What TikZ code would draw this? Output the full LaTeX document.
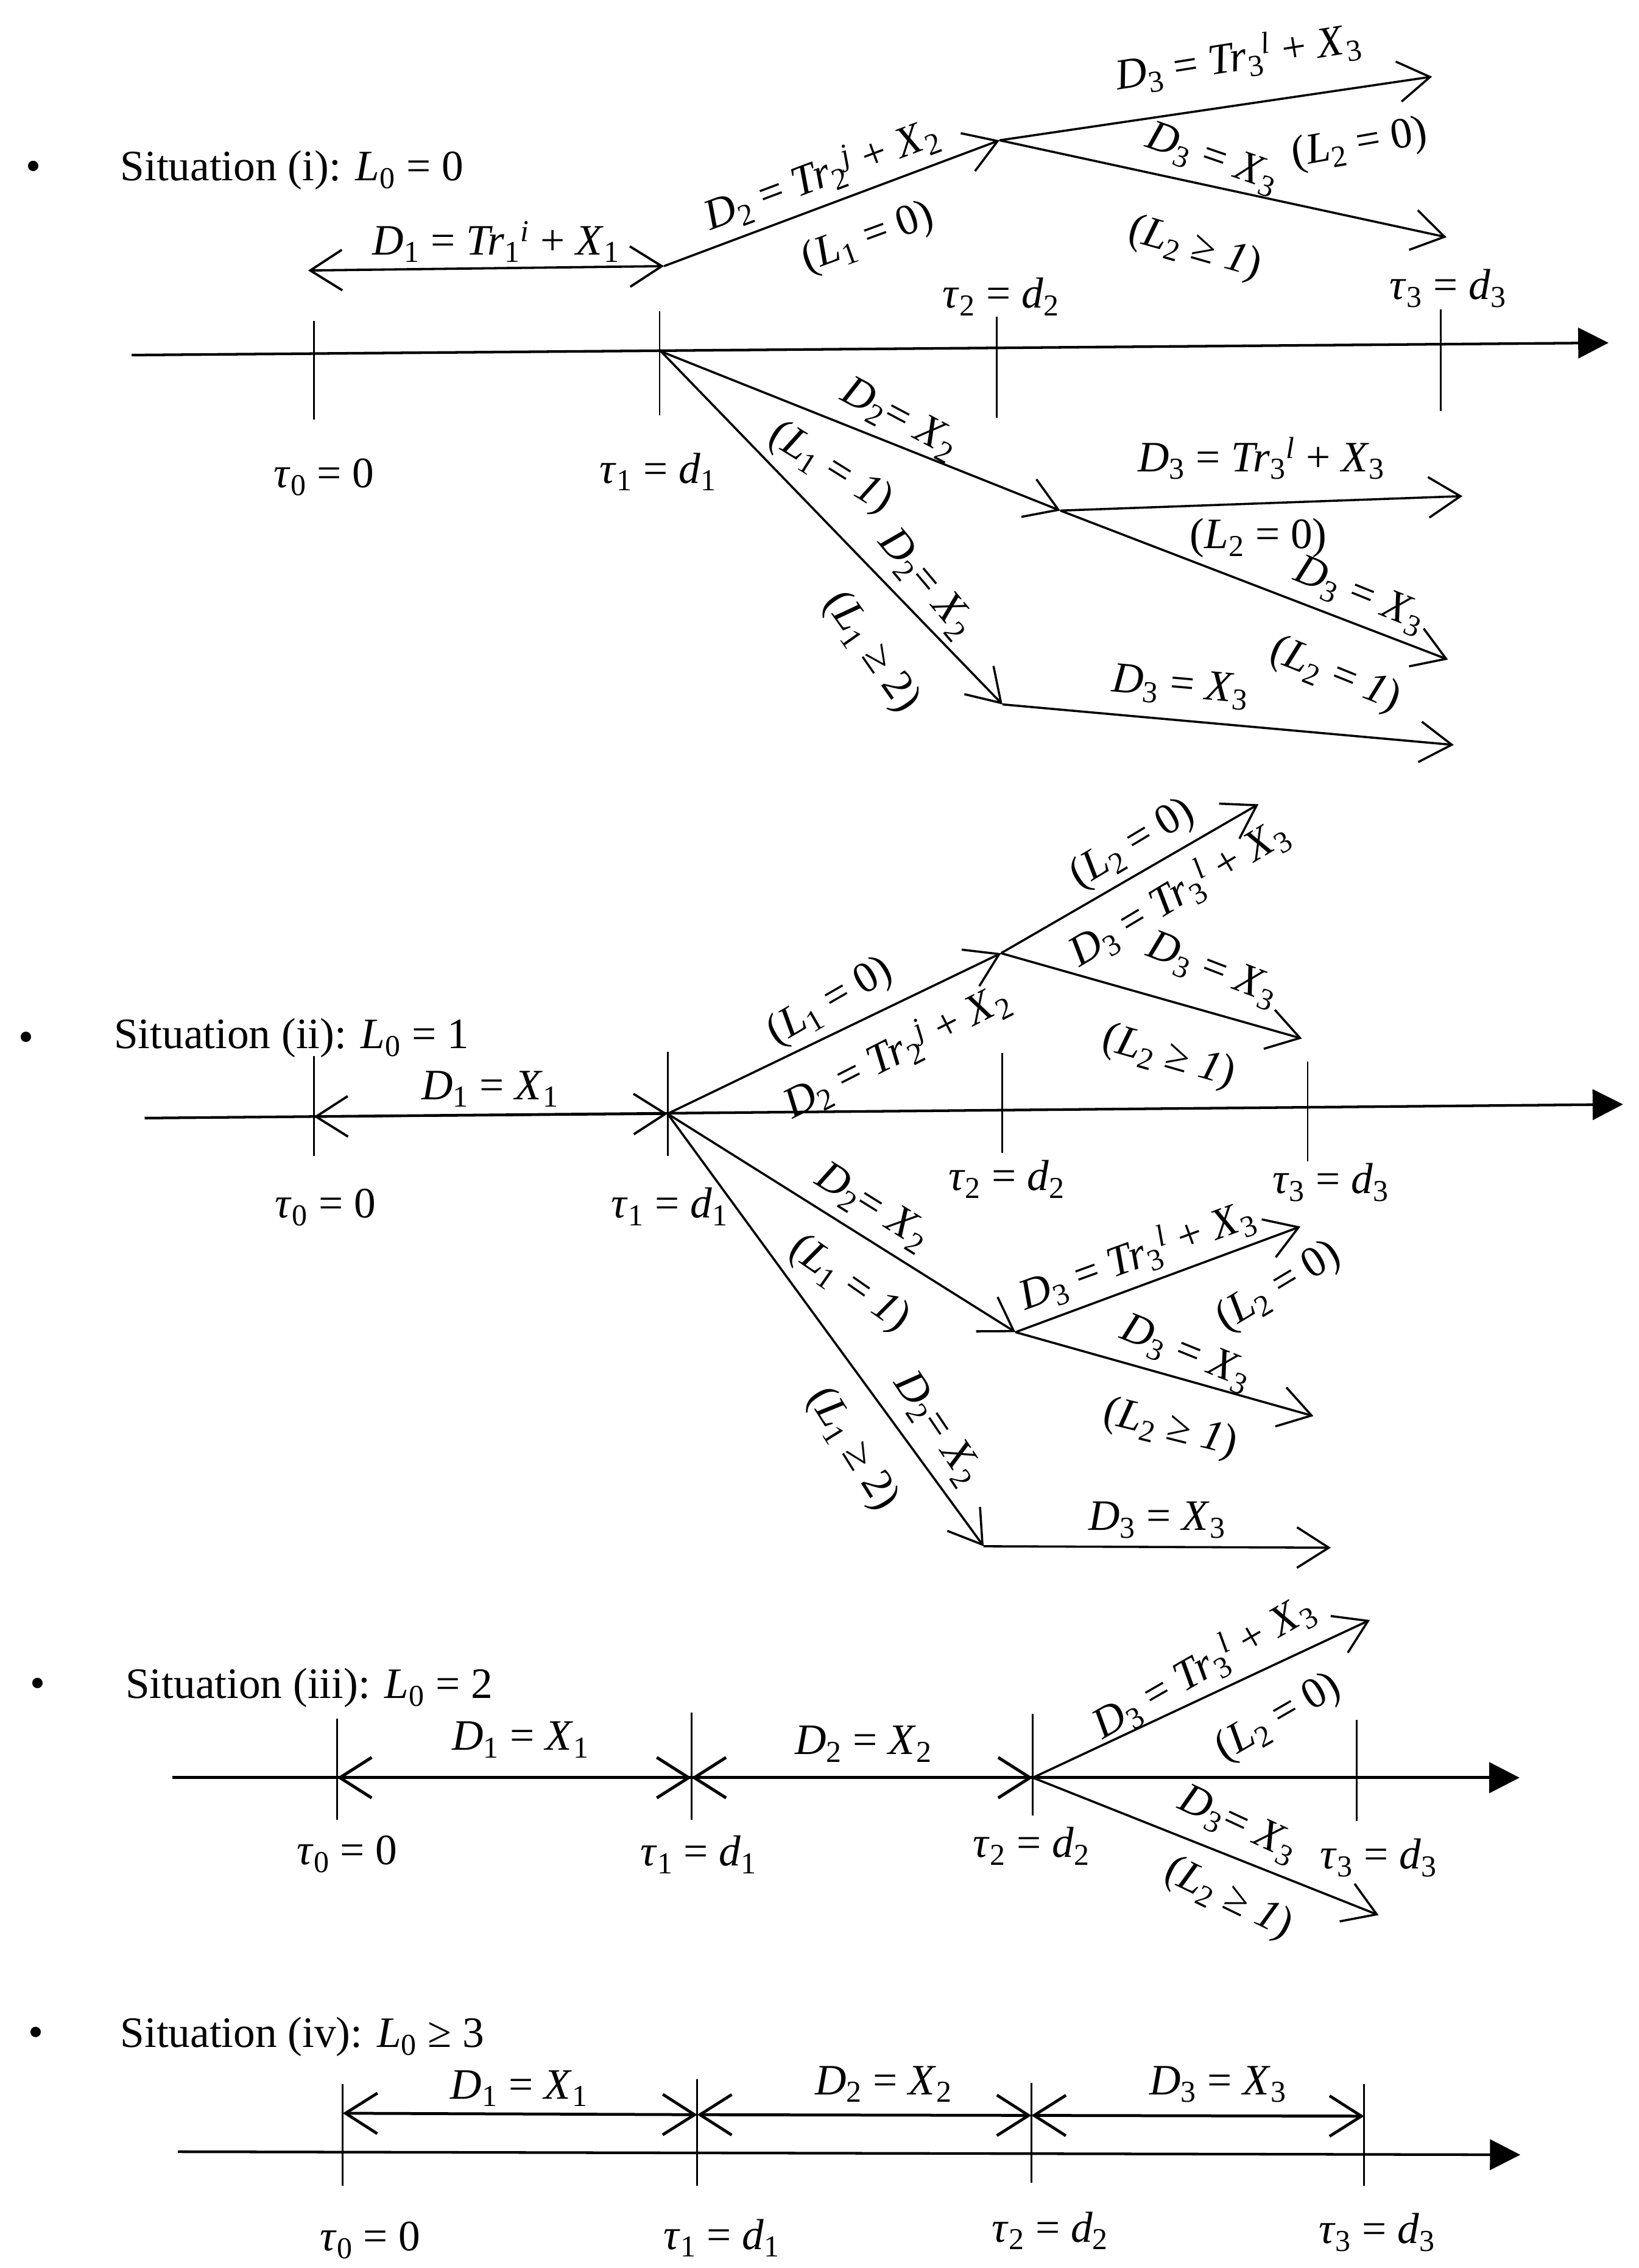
\documentclass[tikz,border=0pt]{standalone}
\usepackage{fontspec}
\setmainfont{Liberation Serif}
\usetikzlibrary{arrows.meta}
\newcommand{\itx}[1]{\textit{#1}}
\newcommand{\sbs}[1]{\textsubscript{#1}}
\newcommand{\sps}[1]{\textsuperscript{#1}}
\newcommand{\Dk}[1]{\itx{D}\sbs{#1}}
\newcommand{\Xk}[1]{\itx{X}\sbs{#1}}
\newcommand{\Lk}[1]{\itx{L}\sbs{#1}}
\newcommand{\tauk}[1]{\itx{τ}\sbs{#1}}
\newcommand{\dk}[1]{\itx{d}\sbs{#1}}
\newcommand{\Trk}[2]{\itx{Tr}\sbs{#1}\sps{\itx{#2}}}
\begin{document}
\begin{tikzpicture}[x=1pt,y=-1pt,
  >={Straight Barb[length=22pt,width=28pt]},
  lbl/.style={font=\fontsize{30}{34}\selectfont, inner sep=0pt},
  blbl/.style={lbl, anchor=base},
  ttl/.style={font=\fontsize{30}{34}\selectfont, inner sep=0pt, anchor=base west},
  axisln/.style={line width=1.8pt, -{Triangle[length=21pt,width=21pt]}},
  tickln/.style={line width=1.2pt},
  brln/.style={line width=1.5pt, ->},
  dblln/.style={line width=1.6pt, <->}]
\fill[white] (0,0) rectangle (1133,1568);
\useasboundingbox (0,0) rectangle (1133,1568);

% ================= Situation (i)
\node[lbl] (iBul) at (23,118) {•};
\node[ttl] (iTitle) at (83,125) {Situation (i): \Lk{0} = 0};
\coordinate (ia0) at (91,245.5); \coordinate (ia1) at (1112,237);
\draw[axisln] (ia0) -- (ia1);
\coordinate (i0u) at (217,222); \coordinate (i0d) at (217,290);
\coordinate (i1u) at (456,215); \coordinate (i1d) at (456,287);
\coordinate (i2u) at (689,219); \coordinate (i2d) at (689,289);
\coordinate (i3u) at (996,214); \coordinate (i3d) at (996,284);
\draw[tickln] (i0u) -- (i0d);
\draw[tickln] (i1u) -- (i1d);
\draw[tickln] (i2u) -- (i2d);
\draw[tickln] (i3u) -- (i3d);
\coordinate (iDl) at (213,187); \coordinate (iDr) at (459,184);
\draw[dblln] (iDl) -- (iDr);
\coordinate (iP) at (691,97); \coordinate (iQ) at (990,53); \coordinate (iR) at (1000,164);
\draw[brln] (iDr) -- (iP);
\draw[brln] (iP) -- (iQ);
\draw[brln] (iP) -- (iR);
\coordinate (iO) at (457,243); \coordinate (iS) at (733,353); \coordinate (iT) at (693,487);
\coordinate (iU) at (1011,343); \coordinate (iV) at (1001,456); \coordinate (iW) at (1005,515);
\draw[brln] (iO) -- (iS);
\draw[brln] (iO) -- (iT);
\draw[brln] (iS) -- (iU);
\draw[brln] (iS) -- (iV);
\draw[brln] (iT) -- (iW);

\node[blbl] (iLD1) at (343,176) {\Dk{1} = \Trk{1}{i} + \Xk{1}};
\node[blbl] (iTau0) at (224,337) {\tauk{0} = 0};
\node[blbl] (iTau1) at (455,334) {\tauk{1} = \dk{1}};
\node[blbl] (iTau2) at (692,213) {\tauk{2} = \dk{2}};
\node[blbl] (iTau3) at (1001,207) {\tauk{3} = \dk{3}};
\node[lbl, rotate=20.6] (iLa) at (568,121) {\Dk{2} = \Trk{2}{j} + \Xk{2}};
\node[lbl, rotate=20] (iLb) at (600,165) {(\Lk{1} = 0)};
\node[lbl, rotate=9] (iLc) at (856,40) {\Dk{3} = \Trk{3}{l} + \Xk{3}};
\node[lbl, rotate=-19] (iLd) at (838,110) {\Dk{3} = \Xk{3}};
\node[lbl, rotate=10] (iLe) at (940,100) {(\Lk{2} = 0)};
\node[lbl, rotate=-16] (iLf) at (826,172) {(\Lk{2} ≥ \itx{1})};
\node[lbl, rotate=-28] (iLg) at (622,290) {\Dk{2}= \Xk{2}};
\node[lbl, rotate=-32] (iLh) at (574,324) {(\Lk{1} = \itx{1})};
\node[lbl, rotate=-50] (iLi) at (640,404) {\Dk{2}= \Xk{2}};
\node[lbl, rotate=-55] (iLj) at (602,451) {(\Lk{1} ≥ 2)};
\node[blbl] (iLk) at (872,326) {\Dk{3} = \Trk{3}{l} + \Xk{3}};
\node[lbl] (iLl) at (870,372) {(\Lk{2} = 0)};
\node[lbl, rotate=-22] (iLm) at (940,412) {\Dk{3} = \Xk{3}};
\node[lbl, rotate=-22] (iLn) at (923,467) {(\Lk{2} = \itx{1})};
\node[lbl, rotate=-5] (iLo) at (816,475) {\Dk{3} = \Xk{3}};

% ================= Situation (ii)
\node[lbl] (iiBul) at (18,720) {•};
\node[ttl] (iiTitle) at (78.6,725) {Situation (ii): \Lk{0} = 1};
\coordinate (iia0) at (100,773); \coordinate (iia1) at (1122,763.5);
\draw[axisln] (iia0) -- (iia1);
\coordinate (ii0u) at (217,730); \coordinate (ii0d) at (217,799);
\coordinate (ii1u) at (461.5,727); \coordinate (ii1d) at (461.5,799);
\coordinate (ii2u) at (693,728); \coordinate (ii2d) at (693,797);
\coordinate (ii3u) at (904,734); \coordinate (ii3d) at (904,803);
\draw[tickln] (ii0u) -- (ii0d);
\draw[tickln] (ii1u) -- (ii1d);
\draw[tickln] (ii2u) -- (ii2d);
\draw[tickln] (ii3u) -- (ii3d);
\coordinate (iiA) at (217,772); \coordinate (iiB) at (461.5,770);
\draw[dblln] (iiA) -- (iiB);
\coordinate (iiP) at (692,659); \coordinate (iiQ) at (870,556); \coordinate (iiR) at (900,718);
\coordinate (iiS) at (702,921); \coordinate (iiT) at (680,1069);
\coordinate (iiU) at (899,848); \coordinate (iiV) at (908,979); \coordinate (iiW) at (920,1070);
\draw[brln] (iiB) -- (iiP);
\draw[brln] (iiP) -- (iiQ);
\draw[brln] (iiP) -- (iiR);
\draw[brln] (iiB) -- (iiS);
\draw[brln] (iiB) -- (iiT);
\draw[brln] (iiS) -- (iiU);
\draw[brln] (iiS) -- (iiV);
\draw[brln] (iiT) -- (iiW);

\node[blbl] (iiLD1) at (339,760) {\Dk{1} = \Xk{1}};
\node[blbl] (iiTau0) at (225,842) {\tauk{0} = 0};
\node[blbl] (iiTau1) at (463,842) {\tauk{1} = \dk{1}};
\node[blbl] (iiTau2) at (696,823) {\tauk{2} = \dk{2}};
\node[blbl] (iiTau3) at (920,825) {\tauk{3} = \dk{3}};
\node[lbl, rotate=30] (iiLa) at (574,693) {(\Lk{1} = 0)};
\node[lbl, rotate=27] (iiLb) at (620,727) {\Dk{2} = \Trk{2}{j} + \Xk{2}};
\node[lbl, rotate=31] (iiLc) at (783,584) {(\Lk{2} = 0)};
\node[lbl, rotate=31] (iiLd) at (815,617) {\Dk{3} = \Trk{3}{l} + \Xk{3}};
\node[lbl, rotate=-21] (iiLe) at (838,671) {\Dk{3} = \Xk{3}};
\node[lbl, rotate=-16] (iiLf) at (808,731) {(\Lk{2} ≥ \itx{1})};
\node[lbl, rotate=-32] (iiLg) at (603,835) {\Dk{2}= \Xk{2}};
\node[lbl, rotate=-35] (iiLh) at (587,888) {(\Lk{1} = \itx{1})};
\node[lbl, rotate=-56] (iiLi) at (648,988) {\Dk{2}= \Xk{2}};
\node[lbl, rotate=-58] (iiLj) at (589,1002) {(\Lk{1} ≥ 2)};
\node[lbl, rotate=20] (iiLk) at (786,868) {\Dk{3} = \Trk{3}{l} + \Xk{3}};
\node[lbl, rotate=31] (iiLl) at (884,890) {(\Lk{2} = 0)};
\node[lbl, rotate=-22] (iiLm) at (820,936) {\Dk{3} = \Xk{3}};
\node[lbl, rotate=-14] (iiLn) at (809,988) {(\Lk{2} ≥ \itx{1})};
\node[blbl] (iiLo) at (800,1058) {\Dk{3} = \Xk{3}};

% ================= Situation (iii)
\node[lbl] (iiiBul) at (26,1167) {•};
\node[ttl] (iiiTitle) at (86.6,1174) {Situation (iii): \Lk{0} = 2};
\coordinate (iiia0) at (119,1229); \coordinate (iiia1) at (1050.5,1229);
\draw[axisln, line width=2.1pt] (iiia0) -- (iiia1);
\coordinate (iii0u) at (233,1188); \coordinate (iii0d) at (233,1258);
\coordinate (iii1u) at (478,1184); \coordinate (iii1d) at (478,1258);
\coordinate (iii2u) at (714,1185); \coordinate (iii2d) at (714,1255);
\coordinate (iii3u) at (938,1189); \coordinate (iii3d) at (938,1259);
\draw[tickln] (iii0u) -- (iii0d);
\draw[tickln] (iii1u) -- (iii1d);
\draw[tickln] (iii2u) -- (iii2d);
\draw[tickln] (iii3u) -- (iii3d);
\coordinate (iiiA) at (233,1229); \coordinate (iiiB) at (478,1229); \coordinate (iiiC) at (714,1229);
\draw[dblln, line width=2.1pt] (iiiA) -- (iiiB);
\draw[dblln, line width=2.1pt] (iiiB) -- (iiiC);
\coordinate (iiiQ) at (947,1120); \coordinate (iiiR) at (953,1324);
\draw[brln] (iiiC) -- (iiiQ);
\draw[brln] (iiiC) -- (iiiR);

\node[blbl] (iiiLD1) at (360,1210) {\Dk{1} = \Xk{1}};
\node[blbl] (iiiLD2) at (597,1213) {\Dk{2} = \Xk{2}};
\node[blbl] (iiiTau0) at (240,1289) {\tauk{0} = 0};
\node[blbl] (iiiTau1) at (483,1290) {\tauk{1} = \dk{1}};
\node[blbl] (iiiTau2) at (713,1284) {\tauk{2} = \dk{2}};
\node[blbl] (iiiTau3) at (953,1292) {\tauk{3} = \dk{3}};
\node[lbl, rotate=30] (iiiLa) at (832,1152) {\Dk{3} = \Trk{3}{l} + \Xk{3}};
\node[lbl, rotate=30] (iiiLb) at (884,1188) {(\Lk{2} = 0)};
\node[lbl, rotate=-25] (iiiLc) at (856,1262) {\Dk{3}= \Xk{3}};
\node[lbl, rotate=-26] (iiiLd) at (849,1313) {(\Lk{2} ≥ \itx{1})};

% ================= Situation (iv)
\node[lbl] (ivBul) at (25,1408) {•};
\node[ttl] (ivTitle) at (83,1415.5) {Situation (iv): \Lk{0} ≥ 3};
\coordinate (iva0) at (123,1487.6); \coordinate (iva1) at (1051,1489.7);
\draw[axisln] (iva0) -- (iva1);
\coordinate (iv0u) at (237,1441); \coordinate (iv0d) at (237,1511);
\coordinate (iv1u) at (482,1437.5); \coordinate (iv1d) at (482,1511);
\coordinate (iv2u) at (713,1440); \coordinate (iv2d) at (713,1509);
\coordinate (iv3u) at (943,1441); \coordinate (iv3d) at (943,1511);
\draw[tickln] (iv0u) -- (iv0d);
\draw[tickln] (iv1u) -- (iv1d);
\draw[tickln] (iv2u) -- (iv2d);
\draw[tickln] (iv3u) -- (iv3d);
\coordinate (ivA) at (237,1461); \coordinate (ivB) at (482,1462);
\coordinate (ivC) at (713,1462.5); \coordinate (ivD) at (943,1463);
\draw[dblln, line width=2pt] (ivA) -- (ivB);
\draw[dblln, line width=2pt] (ivB) -- (ivC);
\draw[dblln, line width=2pt] (ivC) -- (ivD);

\node[blbl] (ivLD1) at (359,1451) {\Dk{1} = \Xk{1}};
\node[blbl] (ivLD2) at (611,1448) {\Dk{2} = \Xk{2}};
\node[blbl] (ivLD3) at (842,1448) {\Dk{3} = \Xk{3}};
\node[blbl] (ivTau0) at (256,1556) {\tauk{0} = 0};
\node[blbl] (ivTau1) at (499,1555) {\tauk{1} = \dk{1}};
\node[blbl] (ivTau2) at (726,1550) {\tauk{2} = \dk{2}};
\node[blbl] (ivTau3) at (952,1551) {\tauk{3} = \dk{3}};
\end{tikzpicture}
\end{document}
